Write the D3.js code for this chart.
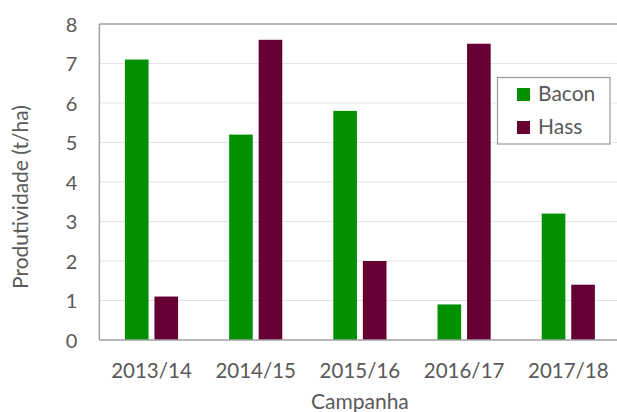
<!DOCTYPE html>
<html>
<head>
<meta charset="utf-8">
<script src="https://cdn.jsdelivr.net/npm/d3@7"></script>
<style>
  html, body { margin: 0; padding: 0; background: #fff; overflow: hidden; }
  svg { display: block; }
  text { font-family: Lato, "Open Sans", sans-serif; fill: #595959; }
</style>
</head>
<body>
<svg id="chart" width="617" height="412"></svg>
<script>
const categories = ["2013/14", "2014/15", "2015/16", "2016/17", "2017/18"];
const seriesNames = ["Bacon", "Hass"];
const bacon = [7.1, 5.2, 5.8, 0.9, 3.2];
const hass = [1.1, 7.6, 2.0, 7.5, 1.4];
const seriesColors = ["#009000", "#660033"];
const yTicks = [0, 1, 2, 3, 4, 5, 6, 7, 8];
const xTitle = "Campanha";
const yTitle = "Produtividade (t/ha)";

const values = [bacon, hass];
const rows = categories.map((c, i) => ({ cat: c, vals: seriesNames.map((s, j) => ({ s, v: values[j][i] })) }));

const svg = d3.select("#chart");
const L = 99.4, R = 620.4, T = 24, B = 340;

const x0 = d3.scaleBand().domain(categories).range([L, R]).paddingInner(0.49).paddingOuter(0.245);
const x1 = d3.scaleBand().domain(seriesNames).range([0, x0.bandwidth()]).paddingInner(0.2).paddingOuter(0);
const y = d3.scaleLinear().domain([0, 8]).range([B, T]);
const color = d3.scaleOrdinal().domain(seriesNames).range(seriesColors);

// gridlines
svg.append("g")
  .selectAll("line")
  .data(yTicks.filter(t => t > 0 && t < 8))
  .join("line")
  .attr("x1", L).attr("x2", R)
  .attr("y1", d => y(d)).attr("y2", d => y(d))
  .attr("stroke", "#e3e3e3").attr("stroke-width", 1.2);

// bars
svg.append("g")
  .selectAll("g")
  .data(rows)
  .join("g")
  .attr("transform", d => `translate(${x0(d.cat)},0)`)
  .selectAll("rect")
  .data(d => d.vals)
  .join("rect")
  .attr("x", d => x1(d.s))
  .attr("width", x1.bandwidth())
  .attr("y", d => y(d.v))
  .attr("height", d => y(0) - y(d.v))
  .attr("fill", d => color(d.s));

// plot border (left, top, bottom)
svg.append("line").attr("x1", L).attr("x2", L).attr("y1", T).attr("y2", B)
  .attr("stroke", "#a0a0a0").attr("stroke-width", 1.5);
svg.append("line").attr("x1", L).attr("x2", R).attr("y1", T).attr("y2", T)
  .attr("stroke", "#a0a0a0").attr("stroke-width", 1.5);
svg.append("line").attr("x1", L).attr("x2", R).attr("y1", B).attr("y2", B)
  .attr("stroke", "#a0a0a0").attr("stroke-width", 1.5);

// y axis labels
const yAxis = d3.axisLeft(y).tickValues(yTicks).tickSize(0).tickPadding(22).tickFormat(d3.format("d"));
const gy = svg.append("g").attr("transform", `translate(${L},0)`).call(yAxis);
gy.select(".domain").remove();
gy.selectAll("text").style("font-family", "Lato, sans-serif").style("font-size", "20px").attr("fill", "#595959").attr("dy", "0.36em");

// x axis labels
const xAxis = d3.axisBottom(x0).tickSize(0).tickPadding(0);
const gx = svg.append("g").attr("transform", `translate(0,${B})`).call(xAxis);
gx.select(".domain").remove();
gx.selectAll("text").style("font-family", "Lato, sans-serif").style("font-size", "20.5px").attr("fill", "#595959")
  .attr("y", 38).attr("dy", 0);

// axis titles
svg.append("text")
  .attr("x", (L + R) / 2).attr("y", 409)
  .attr("text-anchor", "middle")
  .style("font-size", "21px")
  .text(xTitle);
svg.append("text")
  .attr("transform", "translate(28,197) rotate(-90)")
  .attr("text-anchor", "middle")
  .style("font-size", "21px")
  .text(yTitle);

// legend
const lg = svg.append("g");
lg.append("rect").attr("x", 497.5).attr("y", 77.5).attr("width", 112.5).attr("height", 66.5)
  .attr("fill", "#fff").attr("stroke", "#9a9a9a").attr("stroke-width", 1.2);
const items = lg.selectAll("g.item").data(seriesNames).join("g")
  .attr("class", "item")
  .attr("transform", (d, i) => `translate(517,${88 + i * 33})`);
items.append("rect").attr("width", 13).attr("height", 13).attr("fill", d => color(d));
items.append("text").attr("x", 21).attr("y", 13).style("font-size", "21px").text(d => d);
</script>
</body>
</html>
